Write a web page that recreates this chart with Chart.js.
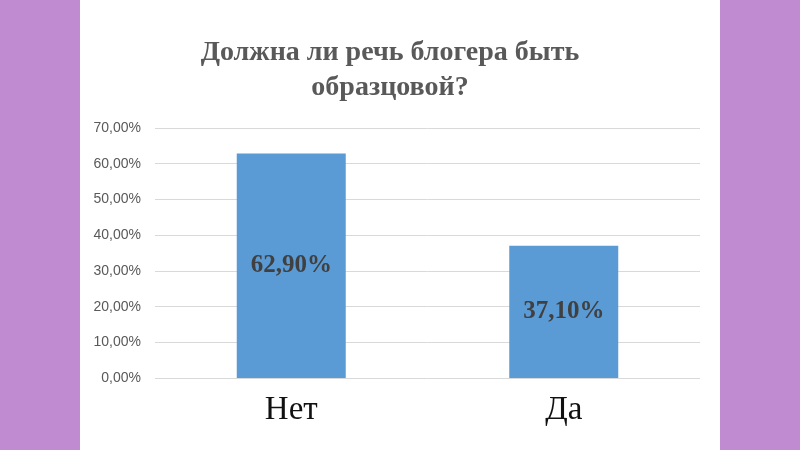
<!DOCTYPE html>
<html>
<head>
<meta charset="utf-8">
<script src="https://cdn.jsdelivr.net/npm/chart.js@4"></script>
<style>
    html, body { margin: 0; padding: 0; }
    body { width: 800px; height: 450px; background: #c18bd1; position: relative; overflow: hidden; }
    #panel { position: absolute; left: 80px; top: 0; width: 640px; height: 450px; background: #fff; }
</style>
</head>
<body>
<div id="panel"><canvas id="chart" width="640" height="450"></canvas></div>
<script>
const categories = ["Нет", "Да"];
const shares = [62.9, 37.1];
const yTicks = [0, 10, 20, 30, 40, 50, 60, 70];
const titleLines = ["Должна ли речь блогера быть", "образцовой?"];

const pct = (v) => v.toFixed(2).replace(".", ",") + "%";

// labels in the middle of each bar
const midLabels = {
    id: "midLabels",
    afterDatasetsDraw(chart) {
        const ctx = chart.ctx;
        const meta = chart.getDatasetMeta(0);
        ctx.save();
        ctx.font = "bold 25px 'Liberation Serif'";
        ctx.fillStyle = "#404040";
        ctx.textAlign = "center";
        ctx.textBaseline = "middle";
        meta.data.forEach((bar, i) => {
            ctx.fillText(pct(shares[i]), bar.x, (bar.y + bar.base) / 2);
        });
        ctx.restore();
    }
};

new Chart(document.getElementById("chart"), {
    type: "bar",
    data: {
        labels: categories,
        datasets: [{
            data: shares,
            backgroundColor: "#5b9bd5",
            barPercentage: 0.4,
            categoryPercentage: 1
        }]
    },
    options: {
        responsive: false,
        animation: false,
        layout: { padding: { left: 0, right: 20, bottom: 8 } },
        plugins: {
            legend: { display: false },
            tooltip: { enabled: false },
            title: {
                display: true,
                text: titleLines,
                color: "#595959",
                font: { family: "'Liberation Serif'", size: 28, weight: "bold", lineHeight: 1.25 },
                padding: { top: 35, bottom: 23 }
            }
        },
        scales: {
            x: {
                grid: { display: false, drawTicks: false },
                border: { display: false },
                ticks: {
                    color: "#111",
                    padding: 12,
                    font: { family: "'Liberation Serif'", size: 33 }
                }
            },
            y: {
                min: 0,
                max: 70,
                afterFit(scale) { scale.width = 75; },
                afterBuildTicks(scale) { scale.ticks = yTicks.map(v => ({ value: v })); },
                grid: { color: "#d9d9d9", lineWidth: 1, drawTicks: false },
                border: { display: false },
                ticks: {
                    color: "#595959",
                    padding: 14,
                    font: { family: "'Liberation Sans'", size: 14 },
                    callback: (v) => pct(v)
                }
            }
        }
    },
    plugins: [midLabels]
});
</script>
</body>
</html>
